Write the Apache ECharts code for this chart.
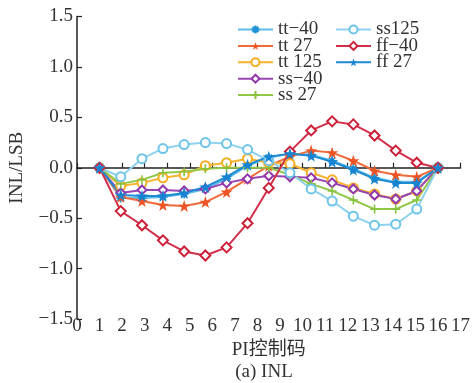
<!DOCTYPE html>
<html>
<head>
<meta charset="utf-8">
<script src="https://cdn.jsdelivr.net/npm/echarts@6/dist/echarts.min.js"></script>
<style>
html,body{margin:0;padding:0;background:#fff;}
#c{width:473px;height:383px;}
</style>
</head>
<body>
<div id="c"></div>
<script>
// PI control code positions (17 evenly spaced samples from 1 to 16)
const codes = [1, 1.94, 2.88, 3.81, 4.75, 5.69, 6.63, 7.56, 8.5, 9.44, 10.38, 11.31, 12.25, 13.19, 14.13, 15.06, 16];
const seriesNames = ['tt\u221240', 'tt 27', 'tt 125', 'ss\u221240', 'ss 27', 'ss125', 'ff\u221240', 'ff 27'];
const tt_m40 = [0, -0.30, -0.30, -0.29, -0.26, -0.21, -0.11, 0.02, 0.10, 0.14, 0.13, 0.07, -0.01, -0.10, -0.14, -0.14, 0];
const tt_27  = [0, -0.29, -0.33, -0.37, -0.38, -0.34, -0.24, -0.11, 0.02, 0.11, 0.17, 0.15, 0.07, -0.03, -0.07, -0.09, 0];
const tt_125 = [0, -0.18, -0.15, -0.10, -0.07, 0.02, 0.05, 0.09, 0.05, 0.04, -0.05, -0.12, -0.20, -0.26, -0.31, -0.23, 0];
const ss_m40 = [0, -0.25, -0.22, -0.22, -0.23, -0.21, -0.15, -0.11, -0.08, -0.09, -0.10, -0.15, -0.21, -0.27, -0.31, -0.23, 0];
const ss_27  = [0, -0.16, -0.12, -0.05, -0.04, -0.01, 0.0, 0.0, 0.0, -0.07, -0.16, -0.23, -0.32, -0.41, -0.41, -0.32, 0];
const ss_125 = [0, -0.09, 0.09, 0.19, 0.23, 0.25, 0.24, 0.18, 0.07, -0.05, -0.21, -0.33, -0.48, -0.57, -0.56, -0.41, 0];
const ff_m40 = [0, -0.43, -0.57, -0.72, -0.83, -0.87, -0.79, -0.55, -0.20, 0.16, 0.37, 0.46, 0.43, 0.32, 0.17, 0.05, 0];
const ff_27  = [0, -0.27, -0.28, -0.28, -0.25, -0.19, -0.09, 0.03, 0.11, 0.14, 0.12, 0.06, -0.02, -0.11, -0.15, -0.15, 0];
const xTicks = [0,1,2,3,4,5,6,7,8,9,10,11,12,13,14,15,16,17];
const yTicks = [-1.5,-1.0,-0.5,0.0,0.5,1.0,1.5];

const SERIF = '"Liberation Serif","DejaVu Serif","Noto Sans CJK SC",serif';
const asterisk = 'path://M5,0 L5,10 M0,5 L10,5 M1.5,1.5 L8.5,8.5 M8.5,1.5 L1.5,8.5';
const plus = 'path://M5,0 L5,10 M0,5 L10,5';
const star = 'path://M50,0 L61.8,35 L98,35 L68.8,57 L79.4,91 L50,70 L20.6,91 L31.2,57 L2,35 L38.2,35 Z';

function mk(name, vals, lineColor, markColor, symbol, size, stroke) {
  const it = {color: markColor, borderWidth: 1.5};
  if (stroke) { it.borderColor = markColor; it.borderWidth = 1.6; }
  return {
    name: name, type: 'line', data: codes.map((x,i)=>[x, vals[i]]),
    symbol: symbol, symbolSize: size, showSymbol: true,
    lineStyle: {color: lineColor, width: 2},
    itemStyle: it,
    emphasis: {disabled: true},
    animation: false, z: 2
  };
}

const series = [
  mk(seriesNames[0], tt_m40, '#5fbde9', '#1d93d5', asterisk, 9, true),
  mk(seriesNames[1], tt_27, '#f26a3a', '#ef5524', star, 12, false),
  mk(seriesNames[2], tt_125, '#f7b22e', '#f7ad20', 'emptyCircle', 9, false),
  mk(seriesNames[3], ss_m40, '#9846b3', '#9236ad', 'emptyDiamond', 9, false),
  mk(seriesNames[4], ss_27, '#92c84a', '#86c23b', plus, 9, true),
  mk(seriesNames[5], ss_125, '#8fd1ee', '#6cc4ea', 'emptyCircle', 9, false),
  mk(seriesNames[6], ff_m40, '#d2304a', '#cc2038', 'emptyDiamond', 10, false),
  mk(seriesNames[7], ff_27, '#1c8bd3', '#1684d0', star, 12, false)
];

const legendCommon = {
  orient: 'vertical', itemWidth: 35, itemHeight: 10, itemGap: -2.6,
  textStyle: {fontFamily: SERIF, fontSize: 19, color: '#333'},
  selectedMode: false
};

const chart = echarts.init(document.getElementById('c'), null, {renderer: 'canvas'});
chart.setOption({
  backgroundColor: '#fff',
  animation: false,
  grid: {left: 77, right: 11, top: 16.5, bottom: 64, containLabel: false},
  legend: [
    Object.assign({}, legendCommon, {left: 232, top: 15, data: seriesNames.slice(0,5)}),
    Object.assign({}, legendCommon, {left: 330, top: 15, data: seriesNames.slice(5)})
  ],
  xAxis: {
    type: 'value', min: xTicks[0], max: xTicks[xTicks.length-1], interval: 1,
    axisLine: {show: true, lineStyle: {color: '#222', width: 1.5}},
    axisTick: {show: true, inside: true, length: 5, lineStyle: {color: '#222', width: 1.2}},
    axisLabel: {fontFamily: SERIF, fontSize: 19, color: '#333', margin: -2},
    splitLine: {show: false},
    name: 'PI控制码', nameLocation: 'middle', nameGap: 22,
    nameTextStyle: {fontFamily: SERIF, fontSize: 19, color: '#333'}
  },
  yAxis: {
    type: 'value', min: yTicks[0], max: yTicks[yTicks.length-1], interval: 0.5,
    axisLine: {show: true, lineStyle: {color: '#222', width: 1.5}},
    axisTick: {show: true, inside: true, length: 5, lineStyle: {color: '#222', width: 1.2}},
    axisLabel: {fontFamily: SERIF, fontSize: 19, color: '#333', margin: 4,
      formatter: v => v.toFixed(1).replace('-', '\u2212')},
    splitLine: {show: false},
    name: 'INL/LSB', nameLocation: 'middle', nameGap: 50, nameRotate: 90,
    nameTextStyle: {fontFamily: SERIF, fontSize: 19, color: '#333'}
  },
  graphic: [{
    type: 'text', x: 264, y: 372,
    style: {text: '(a) INL', font: '19px ' + SERIF, fill: '#333', textAlign: 'center', textVerticalAlign: 'middle'}
  }],
  series: series
});
</script>
</body>
</html>
